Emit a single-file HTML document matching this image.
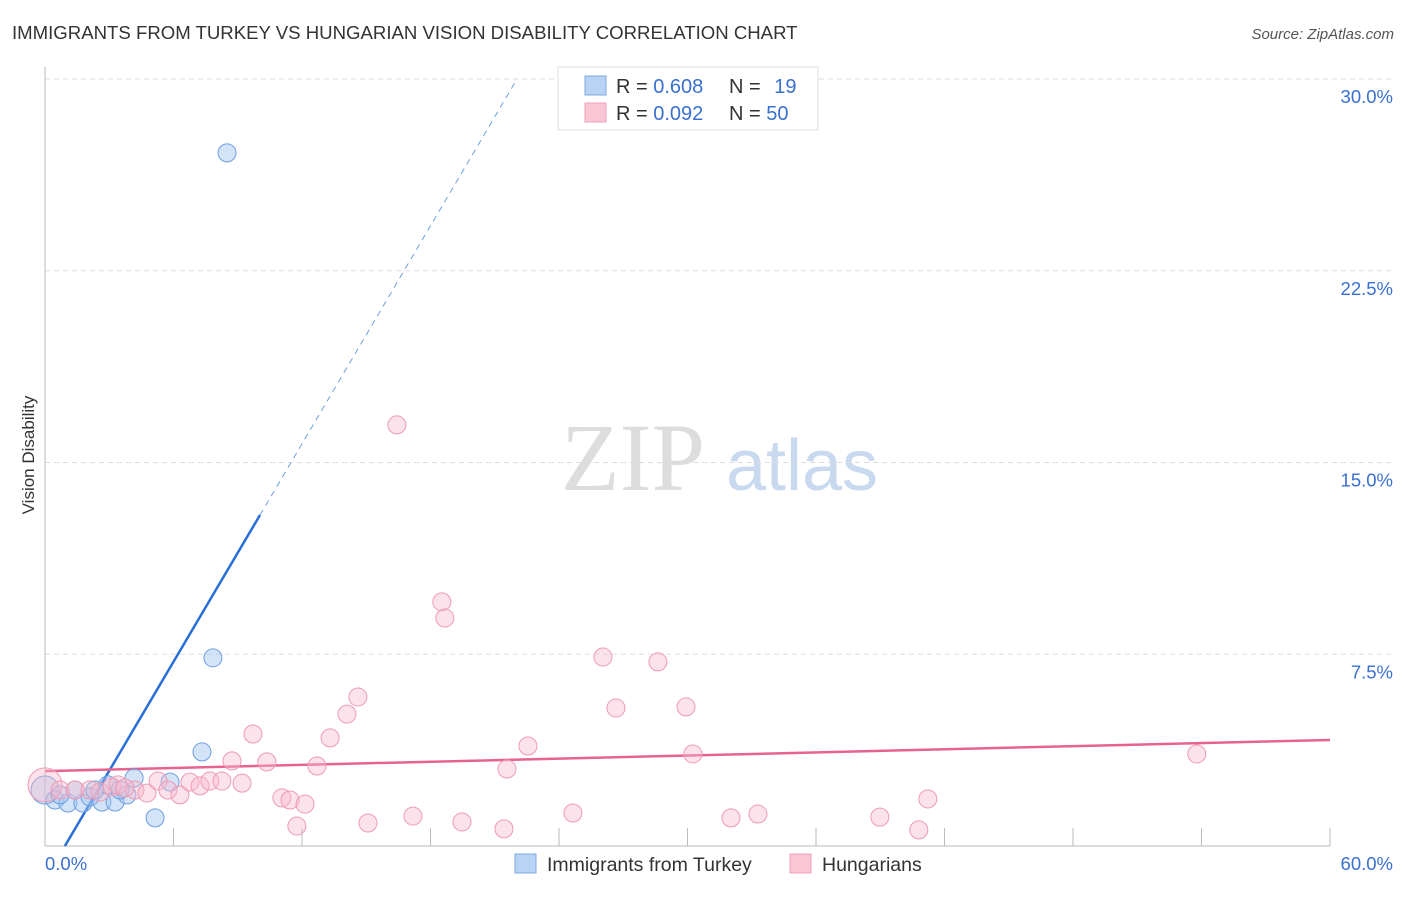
<!DOCTYPE html>
<html><head><meta charset="utf-8"><style>
body{margin:0;background:#fff;font-family:"Liberation Sans",sans-serif}
</style></head><body>
<svg id="chart" width="1406" height="892" xmlns="http://www.w3.org/2000/svg">
<text x="12" y="39" font-size="18.6" fill="#333">IMMIGRANTS FROM TURKEY VS HUNGARIAN VISION DISABILITY CORRELATION CHART</text>
<text x="1394" y="39" font-size="15" fill="#555" font-style="italic" text-anchor="end">Source: ZipAtlas.com</text>
<text x="34" y="455" font-size="17" fill="#333" text-anchor="middle" transform="rotate(-90 34 455)">Vision Disability</text>
<g>
<text x="633" y="490" font-size="96" fill="#ddd" font-family="Liberation Serif,serif" text-anchor="middle">ZIP</text>
<text x="802" y="490" font-size="72" fill="#c9d9ef" text-anchor="middle">atlas</text>
</g>
<g id="grid"></g><g id="axes"></g><g id="lines"></g><g id="pts"></g>
<g>
<rect x="558" y="67" width="260" height="63" fill="#fff" stroke="#ddd"/>
<rect x="585" y="76" width="21" height="19" fill="#b9d3f5" stroke="#7fa8e0"/>
<rect x="585" y="103" width="21" height="19" fill="#f9c6d6" stroke="#eea0b8"/>
<text x="616" y="93" font-size="20" fill="#333">R = <tspan fill="#3a70d0">0.608</tspan></text>
<text x="729" y="93" font-size="20" fill="#333">N = <tspan fill="#3a70d0" dx="8">19</tspan></text>
<text x="616" y="120" font-size="20" fill="#333">R = <tspan fill="#3a70d0">0.092</tspan></text>
<text x="729" y="120" font-size="20" fill="#333">N = <tspan fill="#3a70d0">50</tspan></text>
</g>
<g>
<rect x="515" y="854" width="21" height="19" fill="#b9d3f5" stroke="#7fa8e0"/>
<text x="547" y="871" font-size="19.5" fill="#333">Immigrants from Turkey</text>
<rect x="790" y="854" width="21" height="19" fill="#f9c6d6" stroke="#eea0b8"/>
<text x="822" y="871" font-size="19.5" fill="#333">Hungarians</text>
</g>
</svg>
<script>
const yTicks=[7.5,15,22.5,30];
const yTickLabels=["7.5%","15.0%","22.5%","30.0%"];
const xTickLabels=["0.0%","60.0%"];
const blueX=[0,0.47,1.07,1.77,2.10,2.66,3.27,3.83,2.94,4.16,5.14,5.84,7.33,7.84,8.50,1.40,3.50,0.70,2.33];
const blueY=[2.19,1.80,1.68,1.68,1.92,1.72,1.72,2.00,2.39,2.66,1.10,2.50,3.68,7.36,27.11,2.19,2.19,2.00,2.19];
const pinkX=[0,0.70,1.40,2.10,2.57,3.13,3.41,4.20,4.76,5.28,5.74,6.30,6.77,7.24,7.70,8.26,8.73,9.20,9.71,10.36,11.06,11.44,11.76,12.14,12.70,13.31,14.10,14.61,15.08,16.43,17.18,18.53,18.67,19.47,21.43,21.57,22.55,24.65,26.05,26.66,28.62,29.93,30.25,32.03,33.29,38.98,40.80,41.22,53.78,3.73];
const pinkY=[2.39,2.19,2.19,2.19,2.11,2.31,2.39,2.19,2.07,2.54,2.19,2.00,2.50,2.35,2.54,2.54,3.33,2.46,4.38,3.29,1.88,1.80,0.78,1.64,3.13,4.23,5.16,5.83,0.90,16.47,1.17,9.55,8.92,0.94,0.67,3.01,3.91,1.29,7.39,5.40,7.20,5.44,3.60,1.10,1.25,1.13,0.63,1.84,3.60,2.27];
const blueFit=[-1.32,1.421];
const pinkFit=[2.93,0.0203];
const X0=45,X1=1330,Y0=846,Y1=79;
const sx=v=>X0+(v/60)*(X1-X0);
const sy=v=>Y0-(v/30)*(Y0-Y1);
const NS="http://www.w3.org/2000/svg";
function mk(tag,attrs,parent){const e=document.createElementNS(NS,tag);for(const k in attrs)e.setAttribute(k,attrs[k]);document.getElementById(parent).appendChild(e);return e;}
yTicks.forEach((t,i)=>{
 const g=mk('line',{x1:X0,x2:1392,y1:sy(t),y2:sy(t),stroke:'#ddd','stroke-dasharray':'5,4'},'grid');
 
 
 const l=mk('text',{x:1393,y:sy(t)+24,'font-size':18.5,fill:'#3a70d0','text-anchor':'end'},'axes');
 l.textContent=yTickLabels[i];
 
 
});
const ax=mk('line',{x1:X0,x2:X0,y1:67,y2:Y0,stroke:'#bbb'},'axes');


const bx=mk('line',{x1:X0,x2:X1,y1:Y0,y2:Y0,stroke:'#bbb'},'axes');


for(let t=6;t<=60;t+=6){
 const tk=mk('line',{x1:sx(t),x2:sx(t),y1:Y0,y2:Y0-18,stroke:'#bbb'},'axes');
 
 
}
[[0,'start',X0],[60,'end',1393]].forEach((d,i)=>{
 const l=mk('text',{x:d[2],y:870,'font-size':18.5,fill:'#3a70d0','text-anchor':d[1]},'axes');
 l.textContent=xTickLabels[i];
 
 
});
blueX.forEach((x,i)=>{
 const c=mk('circle',{cx:sx(x),cy:sy(blueY[i]),r:i==0?14:9,fill:'rgba(160,195,240,0.45)',stroke:'#6f9fe0','stroke-width':1},'pts');
 
 
});
pinkX.forEach((x,i)=>{
 const c=mk('circle',{cx:sx(x),cy:sy(pinkY[i]),r:i==0?17:9,fill:'rgba(248,185,205,0.4)',stroke:'#ee9ab4','stroke-width':1},'pts');
 
 
});
const bxs=-blueFit[0]/blueFit[1], bxe=10.04, bxd=(30-blueFit[0])/blueFit[1];
const b1=mk('line',{x1:sx(bxs),y1:sy(0),x2:sx(bxe),y2:sy(blueFit[0]+blueFit[1]*bxe),stroke:'#2a6fd8','stroke-width':2.5},'lines');


const b2=mk('line',{x1:sx(bxe),y1:sy(blueFit[0]+blueFit[1]*bxe),x2:sx(bxd),y2:sy(30),stroke:'#6f9fe0','stroke-width':1,'stroke-dasharray':'6,5'},'lines');


const p1=mk('line',{x1:sx(0),y1:sy(pinkFit[0]),x2:sx(60),y2:sy(pinkFit[0]+pinkFit[1]*60),stroke:'#e8628e','stroke-width':2.5},'lines');


</script>
</body></html>
